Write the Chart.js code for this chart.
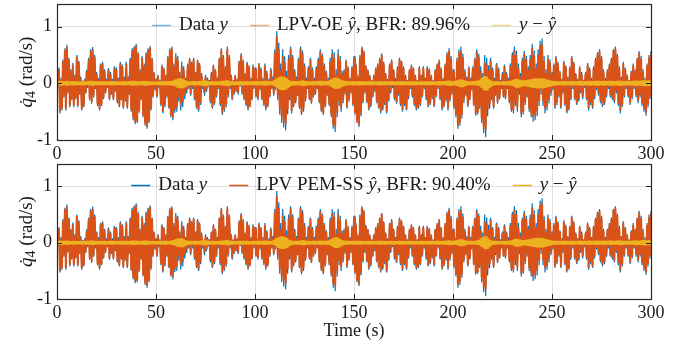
<!DOCTYPE html>
<html>
<head>
<meta charset="utf-8">
<script src="https://cdn.jsdelivr.net/npm/chart.js@4.4.1/dist/chart.umd.min.js"></script>
<style>
  html, body { margin: 0; padding: 0; background: #fff; }
  canvas { display: block; }
</style>
</head>
<body>
<canvas id="oeChart" width="681" height="160"></canvas>
<canvas id="pemChart" width="681" height="189"></canvas>
<script>
// tick labels
var xTicks = [0, 50, 100, 150, 200, 250, 300];
var yTicks = [-1, 0, 1];

var dataUpper = [
  0.02, 0.28, 0.10, 0.42, 0.62, 0.68, 0.45, 0.25, 0.36, 0.15,
  0.50, 0.40, 0.12, 0.05, 0.08, 0.24, 0.45, 0.60, 0.64, 0.50,
  0.20, 0.10, 0.35, 0.38, 0.25, 0.08, 0.27, 0.20, 0.08, 0.30,
  0.28, 0.10, 0.38, 0.33, 0.12, 0.38, 0.12, 0.45, 0.62, 0.66,
  0.70, 0.55, 0.25, 0.48, 0.35, 0.55, 0.62, 0.66, 0.45, 0.20,
  0.08, 0.15, 0.06, 0.33, 0.28, 0.15, 0.48, 0.62, 0.65, 0.35,
  0.53, 0.48, 0.20, 0.38, 0.30, 0.10, 0.35, 0.45, 0.38, 0.45,
  0.20, 0.42, 0.36, 0.18, 0.05, 0.15, 0.10, 0.06, 0.20, 0.33,
  0.25, 0.10, 0.45, 0.62, 0.50, 0.30, 0.65, 0.50, 0.15, 0.06,
  0.15, 0.08, 0.40, 0.53, 0.42, 0.18, 0.38, 0.32, 0.10, 0.33,
  0.28, 0.08, 0.36, 0.28, 0.10, 0.35, 0.22, 0.08, 0.27, 0.12,
  0.60, 0.92, 0.72, 0.35, 0.60, 0.48, 0.22, 0.50, 0.65, 0.50,
  0.25, 0.12, 0.45, 0.65, 0.58, 0.35, 0.10, 0.30, 0.45, 0.28,
  0.10, 0.30, 0.45, 0.60, 0.52, 0.35, 0.22, 0.10, 0.45, 0.60,
  0.55, 0.25, 0.60, 0.48, 0.22, 0.25, 0.42, 0.30, 0.10, 0.30,
  0.48, 0.35, 0.15, 0.50, 0.65, 0.58, 0.32, 0.25, 0.15, 0.06,
  0.15, 0.28, 0.35, 0.45, 0.53, 0.38, 0.18, 0.08, 0.35, 0.42,
  0.25, 0.10, 0.30, 0.45, 0.40, 0.30, 0.15, 0.06, 0.25, 0.33,
  0.28, 0.15, 0.06, 0.30, 0.15, 0.30, 0.10, 0.30, 0.26, 0.15,
  0.06, 0.25, 0.35, 0.42, 0.28, 0.10, 0.35, 0.55, 0.62, 0.48,
  0.25, 0.10, 0.45, 0.60, 0.65, 0.52, 0.25, 0.12, 0.30, 0.10,
  0.30, 0.45, 0.60, 0.52, 0.30, 0.18, 0.50, 0.45, 0.32, 0.45,
  0.28, 0.10, 0.36, 0.28, 0.06, 0.20, 0.33, 0.20, 0.10, 0.35,
  0.55, 0.65, 0.58, 0.35, 0.18, 0.45, 0.57, 0.48, 0.30, 0.50,
  0.70, 0.58, 0.35, 0.60, 0.75, 0.79, 0.48, 0.25, 0.50, 0.42,
  0.20, 0.35, 0.48, 0.38, 0.22, 0.08, 0.40, 0.32, 0.12, 0.30,
  0.48, 0.38, 0.18, 0.08, 0.30, 0.20, 0.06, 0.20, 0.36, 0.28,
  0.10, 0.30, 0.45, 0.55, 0.60, 0.48, 0.25, 0.10, 0.25, 0.35,
  0.45, 0.60, 0.65, 0.52, 0.30, 0.12, 0.38, 0.28, 0.15, 0.06,
  0.22, 0.35, 0.25, 0.45, 0.57, 0.48, 0.25, 0.10, 0.35, 0.50,
  0.57
];
var dataLower = [
  -0.05, -0.53, -0.48, -0.25, -0.48, -0.18, -0.42, -0.30, -0.42, -0.28,
  -0.42, -0.20, -0.48, -0.42, -0.18, -0.08, -0.30, -0.36, -0.25, -0.10,
  -0.40, -0.48, -0.40, -0.28, -0.18, -0.08, -0.30, -0.20, -0.30, -0.15,
  -0.35, -0.42, -0.30, -0.45, -0.32, -0.45, -0.20, -0.50, -0.65, -0.72,
  -0.70, -0.52, -0.30, -0.60, -0.75, -0.80, -0.70, -0.48, -0.25, -0.12,
  -0.25, -0.08, -0.40, -0.53, -0.42, -0.25, -0.45, -0.60, -0.65, -0.52,
  -0.50, -0.32, -0.48, -0.42, -0.28, -0.18, -0.10, -0.22, -0.10, -0.30,
  -0.45, -0.50, -0.38, -0.10, -0.22, -0.15, -0.06, -0.35, -0.45, -0.38,
  -0.25, -0.10, -0.40, -0.56, -0.50, -0.42, -0.25, -0.10, -0.30, -0.20,
  -0.15, -0.20, -0.06, -0.20, -0.30, -0.40, -0.48, -0.42, -0.30, -0.10,
  -0.25, -0.30, -0.12, -0.30, -0.40, -0.48, -0.42, -0.25, -0.10, -0.22,
  -0.12, -0.30, -0.55, -0.70, -0.78, -0.83, -0.55, -0.30, -0.53, -0.42,
  -0.35, -0.22, -0.45, -0.56, -0.50, -0.32, -0.10, -0.30, -0.36, -0.25,
  -0.20, -0.10, -0.35, -0.50, -0.56, -0.42, -0.22, -0.40, -0.60, -0.80,
  -0.86, -0.60, -0.40, -0.50, -0.35, -0.20, -0.45, -0.32, -0.18, -0.40,
  -0.55, -0.70, -0.77, -0.58, -0.35, -0.18, -0.35, -0.48, -0.42, -0.25,
  -0.15, -0.35, -0.45, -0.53, -0.48, -0.38, -0.53, -0.32, -0.18, -0.08,
  -0.30, -0.36, -0.22, -0.40, -0.50, -0.40, -0.48, -0.28, -0.10, -0.25,
  -0.40, -0.48, -0.45, -0.40, -0.25, -0.10, -0.30, -0.42, -0.38, -0.28,
  -0.42, -0.25, -0.10, -0.30, -0.48, -0.42, -0.32, -0.48, -0.32, -0.20,
  -0.45, -0.60, -0.80, -0.75, -0.62, -0.35, -0.22, -0.42, -0.30, -0.12,
  -0.40, -0.57, -0.55, -0.45, -0.70, -0.88, -0.95, -0.58, -0.45, -0.30,
  -0.45, -0.22, -0.36, -0.28, -0.10, -0.25, -0.28, -0.10, -0.35, -0.50,
  -0.53, -0.40, -0.50, -0.20, -0.60, -0.55, -0.38, -0.25, -0.50, -0.60,
  -0.68, -0.65, -0.58, -0.40, -0.20, -0.40, -0.53, -0.48, -0.35, -0.22,
  -0.12, -0.45, -0.38, -0.25, -0.45, -0.18, -0.40, -0.53, -0.48, -0.30,
  -0.10, -0.30, -0.38, -0.32, -0.18, -0.28, -0.08, -0.30, -0.48, -0.38,
  -0.45, -0.28, -0.12, -0.22, -0.35, -0.42, -0.38, -0.25, -0.10, -0.25,
  -0.30, -0.35, -0.18, -0.40, -0.53, -0.42, -0.25, -0.10, -0.25, -0.38,
  -0.28, -0.10, -0.25, -0.35, -0.25, -0.40, -0.50, -0.57, -0.42, -0.28,
  -0.20
];

// |y - yhat| swing per second, LPV-OE model (top)
var errOE = [
  0.03, 0.035, 0.04, 0.03, 0.035, 0.04, 0.03, 0.03, 0.035, 0.03,
  0.03, 0.025, 0.03, 0.03, 0.025, 0.03, 0.035, 0.04, 0.04, 0.03,
  0.03, 0.03, 0.025, 0.03, 0.03, 0.025, 0.03, 0.03, 0.035, 0.03,
  0.03, 0.025, 0.03, 0.03, 0.035, 0.03, 0.03, 0.035, 0.04, 0.035,
  0.035, 0.03, 0.03, 0.035, 0.04, 0.035, 0.03, 0.03, 0.025, 0.025,
  0.025, 0.03, 0.03, 0.03, 0.035, 0.03, 0.03, 0.035, 0.04, 0.05,
  0.07, 0.08, 0.09, 0.085, 0.07, 0.05, 0.035, 0.03, 0.03, 0.035,
  0.03, 0.03, 0.035, 0.04, 0.05, 0.045, 0.04, 0.03, 0.03, 0.03,
  0.03, 0.025, 0.03, 0.035, 0.04, 0.045, 0.05, 0.04, 0.03, 0.03,
  0.025, 0.03, 0.03, 0.035, 0.03, 0.03, 0.03, 0.025, 0.03, 0.03,
  0.03, 0.035, 0.03, 0.03, 0.035, 0.04, 0.035, 0.03, 0.03, 0.04,
  0.06, 0.09, 0.11, 0.12, 0.12, 0.11, 0.09, 0.06, 0.04, 0.035,
  0.035, 0.03, 0.035, 0.04, 0.05, 0.04, 0.035, 0.03, 0.03, 0.035,
  0.03, 0.03, 0.035, 0.04, 0.035, 0.03, 0.035, 0.04, 0.06, 0.08,
  0.10, 0.10, 0.09, 0.07, 0.05, 0.04, 0.035, 0.03, 0.03, 0.035,
  0.03, 0.03, 0.035, 0.03, 0.03, 0.03, 0.025, 0.03, 0.03, 0.03,
  0.025, 0.03, 0.03, 0.035, 0.03, 0.03, 0.03, 0.025, 0.03, 0.03,
  0.03, 0.025, 0.03, 0.03, 0.03, 0.03, 0.025, 0.03, 0.03, 0.03,
  0.03, 0.03, 0.025, 0.03, 0.03, 0.025, 0.03, 0.03, 0.03, 0.03,
  0.025, 0.03, 0.03, 0.035, 0.03, 0.03, 0.035, 0.04, 0.045, 0.04,
  0.035, 0.04, 0.05, 0.06, 0.07, 0.06, 0.045, 0.035, 0.03, 0.03,
  0.03, 0.035, 0.04, 0.05, 0.08, 0.11, 0.13, 0.12, 0.08, 0.05,
  0.035, 0.03, 0.03, 0.03, 0.025, 0.03, 0.03, 0.03, 0.035, 0.04,
  0.05, 0.07, 0.08, 0.07, 0.06, 0.05, 0.05, 0.055, 0.06, 0.07,
  0.08, 0.085, 0.09, 0.09, 0.085, 0.09, 0.08, 0.07, 0.06, 0.05,
  0.04, 0.035, 0.035, 0.03, 0.03, 0.035, 0.035, 0.03, 0.03, 0.035,
  0.035, 0.03, 0.03, 0.035, 0.035, 0.04, 0.035, 0.03, 0.035, 0.04,
  0.035, 0.035, 0.04, 0.04, 0.035, 0.035, 0.04, 0.035, 0.035, 0.04,
  0.04, 0.035, 0.035, 0.04, 0.045, 0.04, 0.035, 0.035, 0.03, 0.035,
  0.035, 0.04, 0.045, 0.04, 0.04, 0.045, 0.05, 0.05, 0.045, 0.05,
  0.045
];

// |y - yhat| swing per second, LPV PEM-SS model (bottom)
var errPEM = [
  0.03, 0.03, 0.035, 0.03, 0.03, 0.035, 0.03, 0.025, 0.03, 0.03,
  0.025, 0.025, 0.03, 0.025, 0.025, 0.03, 0.03, 0.035, 0.035, 0.03,
  0.025, 0.03, 0.025, 0.025, 0.03, 0.025, 0.025, 0.03, 0.03, 0.025,
  0.025, 0.025, 0.03, 0.025, 0.03, 0.03, 0.025, 0.03, 0.035, 0.035,
  0.03, 0.03, 0.025, 0.03, 0.035, 0.035, 0.03, 0.025, 0.025, 0.025,
  0.025, 0.025, 0.03, 0.025, 0.03, 0.03, 0.025, 0.03, 0.035, 0.045,
  0.065, 0.075, 0.08, 0.08, 0.065, 0.045, 0.03, 0.03, 0.025, 0.03,
  0.03, 0.025, 0.03, 0.035, 0.045, 0.04, 0.035, 0.03, 0.025, 0.03,
  0.025, 0.025, 0.03, 0.03, 0.035, 0.04, 0.045, 0.035, 0.03, 0.025,
  0.025, 0.025, 0.03, 0.03, 0.03, 0.025, 0.03, 0.025, 0.025, 0.03,
  0.025, 0.03, 0.03, 0.025, 0.03, 0.035, 0.03, 0.03, 0.025, 0.035,
  0.055, 0.085, 0.10, 0.11, 0.115, 0.10, 0.085, 0.055, 0.04, 0.03,
  0.03, 0.03, 0.03, 0.035, 0.045, 0.035, 0.03, 0.03, 0.025, 0.03,
  0.03, 0.025, 0.03, 0.035, 0.03, 0.03, 0.03, 0.035, 0.055, 0.075,
  0.09, 0.095, 0.085, 0.065, 0.045, 0.035, 0.03, 0.03, 0.025, 0.03,
  0.025, 0.03, 0.03, 0.03, 0.025, 0.025, 0.025, 0.025, 0.03, 0.025,
  0.025, 0.025, 0.03, 0.03, 0.025, 0.03, 0.025, 0.025, 0.025, 0.03,
  0.025, 0.025, 0.025, 0.03, 0.025, 0.025, 0.025, 0.025, 0.03, 0.025,
  0.025, 0.025, 0.025, 0.025, 0.03, 0.025, 0.025, 0.025, 0.03, 0.025,
  0.025, 0.025, 0.03, 0.03, 0.025, 0.03, 0.03, 0.035, 0.04, 0.035,
  0.03, 0.035, 0.045, 0.055, 0.065, 0.055, 0.04, 0.03, 0.025, 0.03,
  0.025, 0.03, 0.035, 0.045, 0.075, 0.10, 0.12, 0.11, 0.075, 0.045,
  0.03, 0.03, 0.025, 0.025, 0.025, 0.025, 0.03, 0.025, 0.03, 0.035,
  0.045, 0.065, 0.075, 0.065, 0.055, 0.045, 0.045, 0.05, 0.055, 0.065,
  0.075, 0.08, 0.085, 0.085, 0.08, 0.085, 0.075, 0.065, 0.055, 0.045,
  0.035, 0.03, 0.03, 0.03, 0.025, 0.03, 0.03, 0.03, 0.025, 0.03,
  0.03, 0.03, 0.025, 0.03, 0.03, 0.035, 0.03, 0.03, 0.03, 0.035,
  0.03, 0.03, 0.035, 0.035, 0.03, 0.03, 0.035, 0.03, 0.03, 0.035,
  0.035, 0.03, 0.03, 0.035, 0.04, 0.035, 0.03, 0.03, 0.03, 0.03,
  0.03, 0.035, 0.04, 0.035, 0.035, 0.04, 0.045, 0.045, 0.04, 0.045,
  0.04
];

var BLUE = '#0072BD', ORANGE = '#D95319', YELLOW = '#EDB120';
var ROMAN = '"Liberation Serif", "Times New Roman", serif';

// each second gives a peak at t and a trough half a second later
function swing(hi, lo) {
  var pts = [];
  for (var k = 0; k < hi.length; k++) {
    pts.push({x: k, y: hi[k]});
    pts.push({x: k + 0.5, y: lo[k]});
  }
  return pts;
}
function errSwing(err) {
  return swing(err, err.map(function (e) { return -e; }));
}
// yhat = y - (y - yhat)
function modelSwing(err) {
  return swing(
    dataUpper.map(function (v, k) { return v - err[k]; }),
    dataLower.map(function (v, k) { return v + err[k]; })
  );
}

function drawParts(ctx, parts, x, y, size) {
  parts.forEach(function (p) {
    var fs = p.sub ? Math.round(size * 0.72) : size;
    ctx.font = (p.it ? 'italic ' : '') + fs + 'px ' + ROMAN;
    ctx.fillText(p.t, x, y + (p.sub ? 4 : 0));
    x += ctx.measureText(p.t).width;
  });
  return x;
}
function partsWidth(ctx, parts, size) {
  var w = 0;
  parts.forEach(function (p) {
    var fs = p.sub ? Math.round(size * 0.72) : size;
    ctx.font = (p.it ? 'italic ' : '') + fs + 'px ' + ROMAN;
    w += ctx.measureText(p.t).width;
  });
  return w;
}

// legend line + mixed roman/italic text, centred at the top of the axes
var mathLegend = {
  id: 'mathLegend',
  afterDraw: function (chart, args, opts) {
    var ctx = chart.ctx, a = chart.chartArea;
    var symLen = 19, gapText = 8, gapItem = 22, fs = 19;
    var y = a.top + 21;
    var total = 0;
    var widths = opts.items.map(function (it) { return partsWidth(ctx, it.parts, fs); });
    widths.forEach(function (w) { total += symLen + gapText + w; });
    total += gapItem * (opts.items.length - 1);
    var x = (a.left + a.right) / 2 - total / 2;
    ctx.save();
    ctx.textBaseline = 'middle';
    opts.items.forEach(function (it, i) {
      ctx.globalAlpha = it.alpha;
      ctx.strokeStyle = it.color;
      ctx.lineWidth = 1.5;
      ctx.beginPath();
      ctx.moveTo(x, y + 0.5);
      ctx.lineTo(x + symLen, y + 0.5);
      ctx.stroke();
      ctx.globalAlpha = 1;
      ctx.fillStyle = '#1a1a1a';
      drawParts(ctx, it.parts, x + symLen + gapText, y, fs);
      x += symLen + gapText + widths[i] + gapItem;
    });
    ctx.restore();
  }
};

// box on all four sides with inward ticks, y label
var frameBox = {
  id: 'frameBox',
  afterDatasetsDraw: function (chart) {
    var ctx = chart.ctx, a = chart.chartArea;
    var xs = chart.scales.x, ys = chart.scales.y;
    ctx.save();
    ctx.strokeStyle = '#262626';
    ctx.lineWidth = 1;
    ctx.beginPath();
    xTicks.forEach(function (v) {
      var px = Math.round(xs.getPixelForValue(v)) + 0.5;
      ctx.moveTo(px, a.bottom); ctx.lineTo(px, a.bottom - 5);
      ctx.moveTo(px, a.top); ctx.lineTo(px, a.top + 5);
    });
    yTicks.forEach(function (v) {
      var py = Math.round(ys.getPixelForValue(v)) + 0.5;
      ctx.moveTo(a.left, py); ctx.lineTo(a.left + 5, py);
      ctx.moveTo(a.right, py); ctx.lineTo(a.right - 5, py);
    });
    ctx.stroke();
    ctx.lineWidth = 1.2;
    ctx.strokeRect(Math.round(a.left) + 0.5, Math.round(a.top) + 0.5,
      Math.round(a.right - a.left), Math.round(a.bottom - a.top));

    // y axis title, rotated
    var parts = [{t: 'q\u0307', it: true}, {t: '4', sub: true}, {t: ' (rad/s)'}];
    var w = partsWidth(ctx, parts, 19);
    ctx.translate(27, (a.top + a.bottom) / 2);
    ctx.rotate(-Math.PI / 2);
    ctx.fillStyle = '#1a1a1a';
    ctx.textBaseline = 'middle';
    drawParts(ctx, parts, -w / 2, 0, 19);
    ctx.restore();
  }
};

function noPad(s) {
  s.paddingTop = 0; s.paddingBottom = 0; s.paddingLeft = 0; s.paddingRight = 0;
}

function makeChart(id, err, modelName, bfr, legendAlpha, axisH, withTime) {
  return new Chart(document.getElementById(id), {
    type: 'line',
    data: {
      datasets: [
        { label: 'Data y', data: swing(dataUpper, dataLower), borderColor: BLUE, borderWidth: 1.2, order: 3 },
        { label: modelName, data: modelSwing(err), borderColor: ORANGE, borderWidth: 2, order: 2 },
        { label: 'y - yhat', data: errSwing(err), borderColor: YELLOW, borderWidth: 2.2, order: 1 }
      ]
    },
    options: {
      responsive: false,
      animation: false,
      parsing: false,
      normalized: true,
      layout: { padding: { top: 4, right: 30, left: 0, bottom: 0 } },
      elements: {
        line: { tension: 0, borderJoinStyle: 'bevel' },
        point: { radius: 0 }
      },
      plugins: {
        legend: { display: false },
        tooltip: { enabled: false },
        mathLegend: {
          items: [
            { color: BLUE, alpha: legendAlpha, parts: [{t: 'Data '}, {t: 'y', it: true}] },
            { color: ORANGE, alpha: legendAlpha, parts: [{t: modelName + ' '}, {t: '\u0177', it: true}, {t: ', BFR: ' + bfr}] },
            { color: YELLOW, alpha: legendAlpha, parts: [{t: 'y', it: true}, {t: ' \u2212 '}, {t: '\u0177', it: true}] }
          ]
        }
      },
      scales: {
        x: {
          type: 'linear',
          min: 0, max: 300,
          afterBuildTicks: function (s) { s.ticks = xTicks.map(function (v) { return {value: v}; }); },
          afterFit: function (s) { s.height = axisH; noPad(s); },
          grid: { color: 'rgba(38,38,38,0.15)', drawTicks: false },
          border: { display: false },
          ticks: { font: { family: ROMAN, size: 18 }, color: '#1a1a1a', padding: 3, maxRotation: 0, autoSkip: false },
          title: {
            display: withTime, text: 'Time (s)',
            font: { family: ROMAN, size: 18 }, color: '#1a1a1a',
            padding: { top: 0, bottom: 7 }
          }
        },
        y: {
          min: -1, max: 1.4,
          afterBuildTicks: function (s) { s.ticks = yTicks.map(function (v) { return {value: v}; }); },
          afterFit: function (s) { s.width = 57; noPad(s); },
          grid: { color: 'rgba(38,38,38,0.15)', drawTicks: false },
          border: { display: false },
          ticks: { font: { family: ROMAN, size: 18 }, color: '#1a1a1a', padding: 5 }
        }
      }
    },
    plugins: [frameBox, mathLegend]
  });
}

makeChart('oeChart', errOE, 'LPV-OE', '89.96%', 0.5, 20, false);
makeChart('pemChart', errPEM, 'LPV PEM-SS', '90.40%', 1, 50, true);
</script>
</body>
</html>
